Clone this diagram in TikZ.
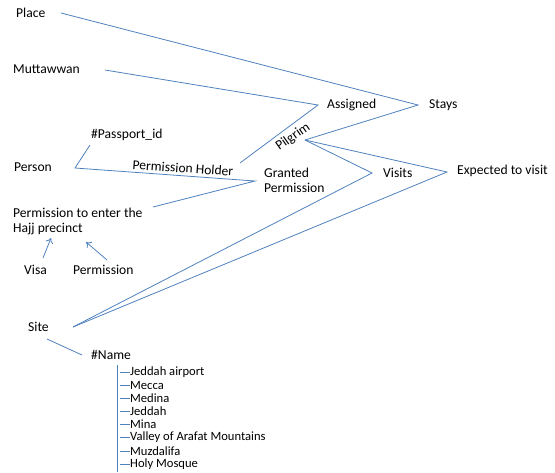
\documentclass[tikz,border=0pt]{standalone}
\usepackage{fontspec}
\setmainfont{Carlito}
\usetikzlibrary{arrows.meta}
\definecolor{linkblue}{RGB}{79,129,189}
\tikzset{
  lbl/.style={anchor=west, inner sep=0pt, font=\fontsize{13.6}{15.5}\selectfont, text=black},
  item/.style={anchor=west, inner sep=0pt, font=\fontsize{12.6}{13}\selectfont, text=black},
  link/.style={draw=linkblue, line width=0.8pt},
  arr/.style={link, -{To[length=5pt,width=8pt]}}
}
\begin{document}
\begin{tikzpicture}[x=1pt,y=-1pt]
\useasboundingbox (0,0) rectangle (555,472);

% labels
\node[lbl] (place) at (16,13) {Place};
\node[lbl] (mutt) at (13,69) {Muttawwan};
\node[lbl] (pass) at (91,135) {\#Passport\_id};
\node[lbl] (person) at (14,167) {Person};
\node[lbl, anchor=center, rotate=-4] (holder) at (183,168) {Permission Holder};
\node[lbl, align=left] (granted) at (264,180.5) {Granted\\Permission};
\node[lbl, align=left] (permit) at (13,221.5) {Permission to enter the\\Hajj precinct};
\node[lbl] (visa) at (24,270) {Visa};
\node[lbl] (perm) at (73,270) {Permission};
\node[lbl] (site) at (28,327) {Site};
\node[lbl] (name) at (91,355) {\#Name};
\node[lbl] (assigned) at (327,105) {Assigned};
\node[lbl] (stays) at (429,105) {Stays};
\node[lbl, anchor=center, rotate=35] (pilgrim) at (293,137) {Pilgrim};
\node[lbl] (visits) at (383,173) {Visits};
\node[lbl] (expected) at (457,171) {Expected to visit};

% end points and vertices of the relationship lines
\coordinate (placeE) at (61,13);
\coordinate (muttE) at (105,70);
\coordinate (passS) at (90,145);
\coordinate (personE) at (75,168);
\coordinate (permitE) at (153,207);
\coordinate (siteE) at (73,327);
\coordinate (pilgrimP) at (305,140);
\coordinate (pilgrimQ) at (240,163);
\coordinate (vAssigned) at (318,105);
\coordinate (vStays) at (418,105);
\coordinate (vGranted) at (255,181);
\coordinate (vVisits) at (372,173);
\coordinate (vExpected) at (447,172);

% relationships
\draw[link] (placeE) -- (vStays) -- (pilgrimP);
\draw[link] (muttE) -- (vAssigned) -- (pilgrimQ);
\draw[link] (passS) -- (personE) -- (vGranted) -- (permitE);
\draw[link] (pilgrimP) -- (vVisits) -- (siteE);
\draw[link] (pilgrimP) -- (vExpected) -- (siteE);

% subtypes of the permission
\coordinate (visaT) at (43,258);
\coordinate (visaH) at (51,238);
\coordinate (permT) at (107,260);
\coordinate (permH) at (86,242);
\draw[arr] (visaT) -- (visaH);
\draw[arr] (permT) -- (permH);

% site name and its values
\coordinate (siteS) at (47,339);
\coordinate (nameW) at (82,355);
\draw[link] (siteS) -- (nameW);

\coordinate (treeTop) at (117,365);
\coordinate (treeBot) at (117,472);
\draw[link] (treeTop) -- (treeBot);
\foreach \y/\t [count=\i] in {372/Jeddah airport, 385.5/Mecca, 398.5/Medina, 411/Jeddah, 424.5/Mina, 437.5/Valley of Arafat Mountains, 451/Muzdalifa, 464/Holy Mosque}{
  \node[item] (val\i) at (130,\y) {\t};
  \draw[link] (120,\y) -- (val\i.west);
}
\end{tikzpicture}
\end{document}
